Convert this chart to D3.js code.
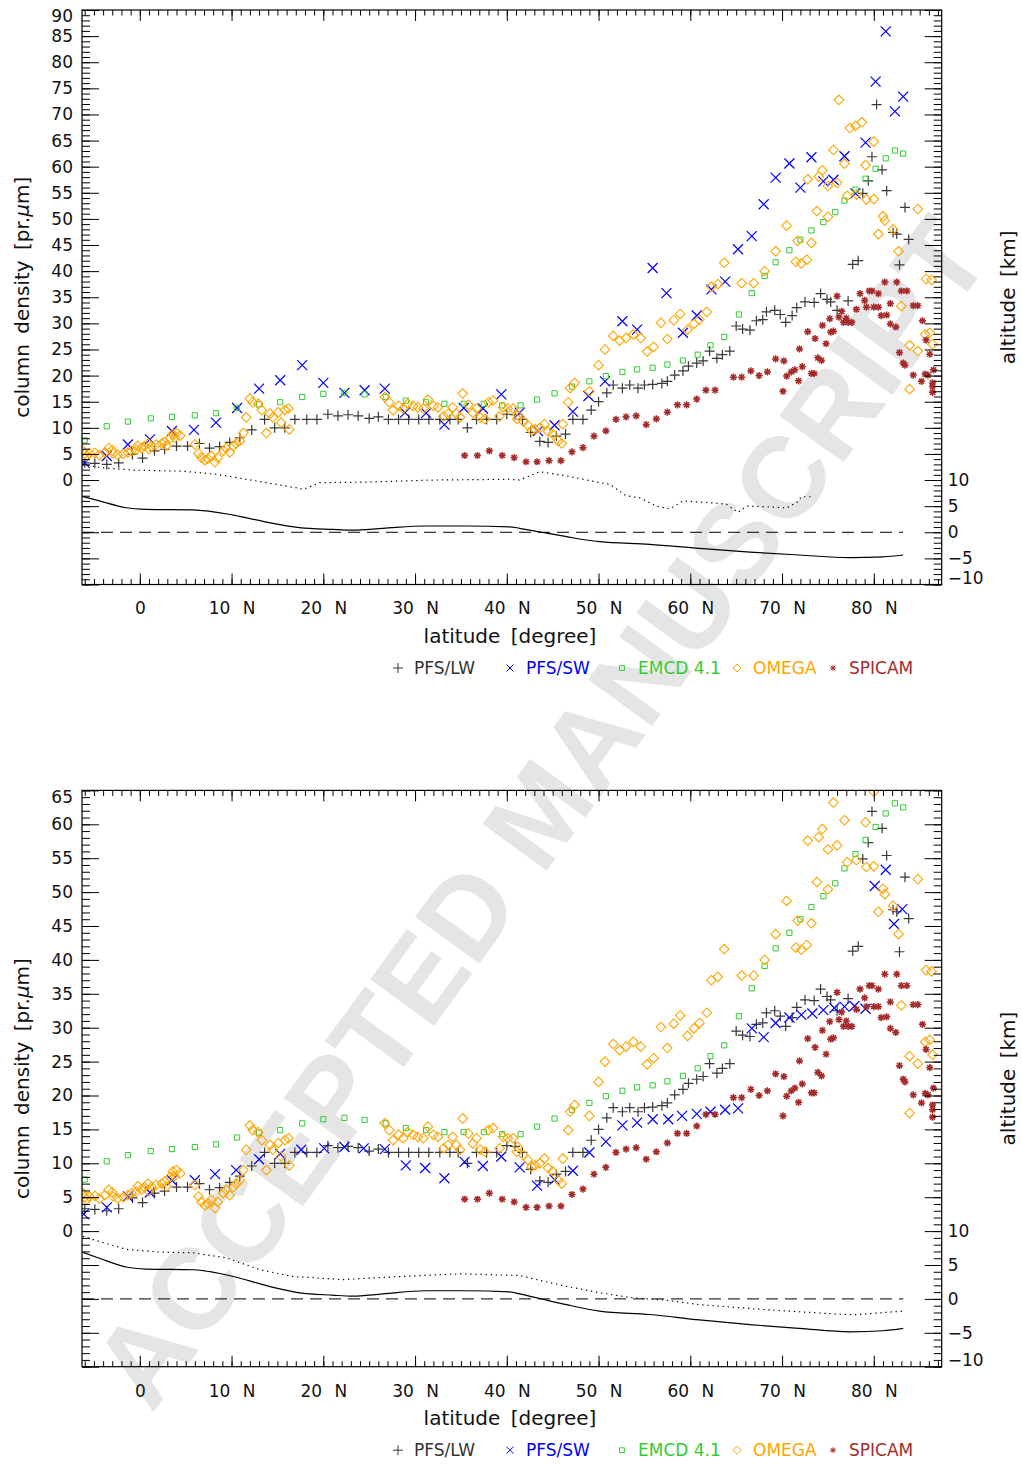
<!DOCTYPE html>
<html>
<head>
<meta charset="utf-8">
<script src="https://cdn.jsdelivr.net/npm/d3@7"></script>
<style>
  body { margin: 0; background: #fff; }
  svg text { font-family: "DejaVu Sans", sans-serif; }
</style>
</head>
<body>
<svg id="chart" width="1022" height="1464"></svg>
<script>
// ---- data: [latitude (deg N), column density (pr.um)] ----
const pfsLW = [[-6.0,3.3],[-4.9,3.2],[-3.6,3.0],[-2.3,3.3],[-0.8,4.9],[0.3,4.2],[1.6,5.6],[2.7,5.9],[4.0,6.5],[5.2,6.5],[6.5,7.0],[7.6,6.1],[8.7,6.4],[9.8,7.2],[10.9,8.1],[12.2,9.6],[13.6,11.6],[14.7,10.0],[15.8,10.0],[16.9,11.6],[18.2,11.6],[19.3,11.6],[20.5,12.6],[21.6,12.3],[22.7,12.5],[23.8,12.3],[25.0,11.8],[26.0,12.1],[27.1,11.6],[28.2,11.6],[29.3,11.6],[30.4,11.6],[31.5,11.6],[32.7,11.6],[33.8,11.6],[34.7,11.6],[35.7,10.0],[36.7,11.6],[37.8,11.6],[38.9,11.6],[40.0,12.6],[40.9,12.5],[41.7,11.6],[42.6,9.1],[43.6,7.4],[44.5,7.2],[45.4,8.4],[46.4,8.8],[47.2,11.6],[48.3,11.6],[49.2,13.4],[50.0,15.0],[50.9,16.7],[51.6,18.2],[52.6,17.6],[53.4,18.2],[54.3,17.6],[55.0,18.2],[55.9,18.3],[56.9,18.5],[57.5,18.9],[58.3,20.1],[59.2,20.9],[59.8,21.8],[60.7,22.4],[61.4,22.8],[62.1,24.7],[62.9,23.3],[63.5,24.0],[64.3,24.7],[65.0,29.5],[65.7,28.9],[66.5,28.7],[67.2,30.5],[67.9,30.7],[68.3,32.2],[69.2,32.5],[69.8,31.7],[70.4,30.2],[71.1,31.5],[71.6,33.0],[72.5,34.1],[73.5,34.0],[74.2,35.7],[74.9,34.6],[75.3,34.1],[76.0,32.5],[77.2,34.3],[77.7,41.3],[78.3,42.0],[78.8,54.9],[79.4,57.3],[79.8,61.9],[80.3,71.9],[80.9,59.4],[81.4,55.4],[82.1,47.4],[82.5,47.1],[82.8,41.2],[83.4,52.2],[83.8,46.1]];

const pfsSWTop = [[-6.0,3.3],[-3.6,4.6],[-1.3,6.8],[1.1,7.8],[3.5,9.4],[5.9,9.6],[8.3,11.0],[10.6,13.8],[13.0,17.5],[15.3,19.1],[17.7,22.0],[20.0,18.6],[22.3,16.7],[24.5,17.2],[26.7,17.5],[28.9,12.9],[31.2,12.8],[33.2,10.6],[35.3,13.8],[37.4,13.7],[39.4,16.4],[41.4,12.9],[43.4,9.4],[45.2,10.5],[47.2,13.1],[48.9,16.1],[50.7,18.9],[52.6,30.4],[54.2,28.8],[55.9,40.6],[57.4,35.8],[59.2,28.2],[60.7,31.5],[62.3,36.5],[63.8,38.0],[65.2,44.2],[66.7,46.7],[68.0,52.8],[69.3,57.9],[70.8,60.6],[72.0,56.0],[73.2,61.8],[74.5,57.2],[75.6,57.5],[76.8,62.0],[78.0,54.9],[79.1,64.6],[80.2,76.3],[81.3,85.9],[82.3,70.6],[83.2,73.4]];

const pfsSWBottom = [[-6.1,2.5],[-3.6,3.5],[-1.3,5.1],[1.1,5.7],[3.5,7.5],[6.0,7.5],[8.2,8.4],[10.5,9.0],[13.0,10.6],[15.3,11.4],[17.6,12.0],[20.1,12.2],[22.3,12.4],[24.4,12.2],[26.7,12.1],[29.0,9.7],[31.1,9.3],[33.2,7.8],[35.4,10.2],[37.4,9.6],[39.4,11.0],[41.4,9.4],[43.3,6.7],[45.2,7.6],[47.2,8.9],[49.0,11.6],[50.8,13.2],[52.6,15.6],[54.2,16.0],[55.9,16.5],[57.6,16.5],[59.1,17.0],[60.7,17.3],[62.2,17.6],[63.8,17.9],[65.2,18.1],[66.7,29.9],[68.0,28.6],[69.3,30.7],[70.8,31.5],[72.1,31.9],[73.3,32.1],[74.5,32.6],[75.7,32.9],[76.8,33.1],[77.9,33.2],[79.1,32.8],[80.1,50.9],[81.3,53.3],[82.2,45.3],[83.1,47.5]];

const emcd = [[-6.0,7.6],[-3.6,10.3],[-1.3,11.2],[1.2,11.8],[3.5,12.1],[6.0,12.4],[8.3,12.8],[10.6,13.8],[13.0,14.5],[15.3,14.9],[17.7,15.9],[20.0,16.5],[22.3,16.7],[24.5,16.4],[26.8,15.9],[29.0,15.2],[31.2,14.9],[33.2,14.6],[35.3,14.6],[37.5,14.6],[39.5,14.3],[41.5,14.3],[43.3,15.4],[45.2,16.6],[47.1,17.9],[49.0,18.9],[50.8,19.9],[52.6,20.7],[54.2,21.2],[55.9,21.5],[57.5,22.1],[59.2,22.9],[60.8,24.0],[62.2,25.8],[63.7,27.4],[65.3,31.7],[66.7,35.8],[68.1,39.1],[69.3,41.7],[70.8,44.0],[72.0,46.0],[73.2,47.8],[74.5,49.4],[75.8,51.3],[76.8,53.5],[78.0,55.6],[79.1,57.7],[80.2,59.6],[81.3,61.6],[82.3,63.1],[83.2,62.5]];

const omega = [[-6.2,5.6],[-6.0,5.0],[-5.8,4.6],[-5.5,5.1],[-4.9,5.2],[-4.4,4.8],[-3.8,5.3],[-3.4,6.1],[-3.0,5.7],[-2.9,5.1],[-2.4,4.8],[-1.8,5.0],[-1.3,5.3],[-0.9,5.6],[-0.4,5.8],[-0.2,6.6],[0.2,6.1],[0.5,6.5],[0.9,7.0],[1.0,5.9],[1.3,6.5],[1.8,6.8],[2.4,7.0],[2.7,7.3],[2.9,6.6],[3.3,8.0],[3.6,8.8],[3.8,8.1],[4.0,9.0],[4.4,8.5],[6.0,6.8],[6.4,5.1],[6.7,4.3],[7.1,3.8],[7.4,4.1],[7.8,4.6],[8.2,3.4],[8.5,4.3],[9.1,5.6],[9.4,6.1],[9.8,5.3],[10.2,6.5],[10.5,7.0],[10.9,7.5],[11.3,9.0],[11.6,12.0],[12.0,15.6],[12.3,14.9],[12.9,14.6],[13.3,13.4],[13.8,9.0],[14.2,12.7],[14.5,12.0],[15.1,13.0],[15.4,11.0],[15.8,13.4],[16.2,13.7],[16.3,9.7],[26.7,15.9],[27.2,14.9],[27.6,13.4],[28.2,14.2],[28.7,13.7],[29.2,14.6],[29.8,14.2],[30.3,13.9],[30.9,13.7],[31.4,15.4],[32.0,14.2],[32.5,13.9],[33.1,12.2],[33.6,12.7],[34.1,13.9],[34.5,12.7],[34.9,12.0],[35.2,16.6],[35.8,14.4],[36.3,12.9],[36.7,13.7],[37.1,12.0],[37.6,11.7],[38.0,14.9],[38.5,15.2],[39.2,12.2],[39.6,13.9],[40.1,13.7],[40.7,13.7],[41.1,11.7],[41.2,12.4],[41.8,11.2],[42.3,10.5],[42.7,9.5],[43.1,9.7],[43.6,10.0],[44.1,10.7],[44.5,9.3],[45.0,8.8],[45.6,7.5],[46.0,7.0],[46.1,10.7],[46.7,14.9],[46.9,17.6],[47.4,18.6],[49.0,17.0],[50.0,22.0],[50.7,25.0],[51.6,27.6],[52.3,26.7],[53.0,27.2],[53.8,27.9],[54.6,27.2],[55.3,24.6],[56.0,25.5],[56.8,30.1],[57.5,27.0],[58.2,30.6],[58.9,31.8],[59.7,28.8],[60.4,29.9],[61.0,30.7],[61.8,32.2],[62.3,37.0],[63.0,37.5],[63.7,41.6],[65.6,37.7],[66.9,37.7],[68.1,40.0],[69.3,43.8],[70.5,48.7],[71.5,41.8],[71.7,45.8],[72.1,41.5],[72.7,42.2],[72.8,57.6],[73.2,45.4],[73.8,51.5],[74.0,58.1],[74.4,59.3],[75.0,50.4],[75.0,56.3],[75.6,63.2],[76.0,56.9],[76.2,72.8],[76.8,60.6],[77.1,54.4],[77.4,67.4],[78.0,67.8],[78.1,54.7],[78.7,68.5],[79.1,60.3],[79.2,53.7],[80.0,53.8],[80.0,64.8],[80.5,47.1],[81.0,50.5],[81.2,49.7],[82.1,48.0],[82.7,43.8],[83.0,33.3],[83.9,25.8],[83.9,17.4],[84.8,24.7],[84.8,51.9],[85.6,27.9],[85.7,38.5],[86.1,28.2],[86.3,38.3],[86.4,26.0]];

const spicam = [[35.4,4.7],[36.8,4.7],[38.1,5.6],[39.5,4.7],[40.8,4.3],[42.1,3.5],[43.3,3.5],[44.6,3.7],[45.9,3.7],[47.1,5.4],[48.3,6.2],[49.5,8.4],[50.8,9.4],[51.9,11.6],[53.0,12.1],[54.1,12.3],[55.2,10.6],[56.3,11.7],[57.5,13.0],[58.6,14.4],[59.6,14.4],[60.7,15.5],[61.7,17.2],[62.7,17.2],[64.7,19.7],[65.6,19.7],[66.6,20.9],[67.5,20.0],[68.4,20.7],[69.3,23.2],[70.1,17.0],[70.2,22.8],[70.5,19.9],[71.0,20.7],[71.4,21.1],[71.8,19.0],[71.9,25.1],[72.2,21.7],[72.8,28.4],[73.2,20.4],[73.5,20.4],[73.6,27.1],[73.9,23.4],[74.3,22.9],[74.4,29.6],[74.8,26.1],[75.2,30.9],[75.3,28.3],[75.6,28.5],[76.0,35.2],[76.2,31.2],[76.5,32.3],[76.7,30.2],[77.0,31.0],[77.2,30.2],[77.6,30.2],[78.1,32.7],[78.5,35.7],[79.0,34.4],[79.2,33.1],[79.5,36.2],[79.8,36.2],[80.0,33.1],[80.5,35.7],[80.5,33.1],[80.8,31.5],[81.2,37.9],[81.4,31.6],[81.8,33.8],[81.8,29.9],[82.4,29.3],[82.5,37.9],[82.8,24.4],[83.0,36.2],[83.2,22.4],[83.4,22.0],[83.6,36.2],[84.3,33.4],[84.3,20.1],[84.8,33.4],[85.2,18.9],[85.3,30.5],[85.6,20.3],[85.7,26.8],[85.9,20.1],[86.1,24.1],[86.4,18.6],[86.4,17.9],[86.4,16.8],[86.5,21.1]];

// altitude curves: [latitude, altitude km] (right axis)
const surfaceAlt = [[-6.3,6.9],[-4.4,6.0],[-1.5,4.7],[0.7,4.4],[5.8,4.3],[10.2,3.3],[13.8,1.95],[17.4,0.9],[21.0,0.55],[23.2,0.4],[26.5,0.75],[31.2,1.2],[35.6,1.2],[40.3,1.05],[41.4,0.75],[43.9,-0.05],[46.5,-0.85],[50.1,-1.8],[55.6,-2.3],[61.0,-3.1],[66.5,-3.8],[71.9,-4.35],[77.4,-4.85],[81.0,-4.7],[83.2,-4.35]];
const dottedTop = [[-6.2,13.0],[-4.4,12.4],[-0.7,11.9],[4.7,11.7],[8.4,11.1],[13.8,9.5],[17.4,8.4],[17.8,8.2],[19.6,9.5],[24.7,9.6],[32.0,10.0],[40.3,10.15],[41.4,10.0],[43.6,11.6],[46.5,10.8],[50.1,9.5],[51.2,9.2],[53.0,7.0],[54.5,6.6],[56.3,5.0],[57.8,4.5],[59.2,6.0],[61.8,5.7],[63.9,5.4],[65.2,3.8],[66.1,5.0],[68.3,4.9],[70.5,4.65],[71.6,5.7],[72.1,6.8],[73.2,6.8]];
const dottedBottom = [[-6.2,9.2],[-5.1,8.75],[-1.45,7.3],[2.2,6.9],[5.8,6.8],[9.45,6.05],[13.1,4.3],[16.7,3.3],[22.2,2.85],[27.6,3.25],[34.9,3.7],[41.4,3.45],[42.9,2.95],[46.5,1.85],[50.1,0.9],[53.8,0.15],[57.4,-0.2],[61.0,-0.85],[68.3,-1.6],[75.5,-2.2],[77.7,-2.35],[83.2,-1.8]];
const refLevel = [[-6.3,0],[83.2,0]];

const latTicks = [0, 10, 20, 30, 40, 50, 60, 70, 80];
const legendNames = ["PFS/LW", "PFS/SW", "EMCD 4.1", "OMEGA", "SPICAM"];

// ---- drawing ----
const svg = d3.select("#chart");
const x = d3.scaleLinear().domain([-6.3, 87.4]).range([82, 941.7]);

function symbolPath(type, s) {
  const a = s * 0.72;
  switch (type) {
    case "plus": return `M${-s},0H${s}M0,${-s}V${s}`;
    case "cross": return `M${-s},${-s}L${s},${s}M${-s},${s}L${s},${-s}`;
    case "square": return `M${-s},${-s}H${s}V${s}H${-s}Z`;
    case "diamond": return `M0,${-s}L${s},0L0,${s}L${-s},0Z`;
    case "star": return `M${-s},0H${s}M0,${-s}V${s}M${-a},${-a}L${a},${a}M${-a},${a}L${a},${-a}`;
  }
}

const styles = [
  {sym: "plus", size: 5, legSize: 5, color: "#383838", text: "#333", width: 1.2},
  {sym: "cross", size: 5, legSize: 3.5, color: "#0000ff", text: "#0000ff", width: 1.2},
  {sym: "square", size: 2.6, legSize: 2.4, color: "#33cc33", text: "#33cc33", width: 1},
  {sym: "diamond", size: 4.8, legSize: 4, color: "#ffa500", text: "#ffa500", width: 1.1},
  {sym: "star", size: 3.6, legSize: 3, color: "#a52a2a", text: "#a52a2a", width: 1.5}
];

// watermark behind everything
svg.append("text")
  .attr("transform", "translate(540,812) rotate(-54)")
  .attr("text-anchor", "middle")
  .attr("dominant-baseline", "central")
  .style("font-family", "'Liberation Sans', Arial, sans-serif")
  .style("font-size", "115px")
  .style("font-weight", "bold")
  .attr("fill", "#e5e5e5")
  .text("ACCEPTED MANUSCRIPT");

function drawPanel(p) {
  const y = d3.scaleLinear().domain([-20, p.yMax]).range([p.bottom, p.top]);
  const yR = d3.scaleLinear().domain([-10, p.yMax + 10]).range([p.bottom, p.top]);
  const [x0, x1] = x.range();
  const g = svg.append("g");

  g.append("clipPath").attr("id", "clip" + p.name)
    .append("rect").attr("x", x0).attr("y", p.top)
    .attr("width", x1 - x0).attr("height", p.bottom - p.top);
  const plot = g.append("g").attr("clip-path", `url(#clip${p.name})`);

  // altitude profiles
  const straight = d3.line().x(d => x(d[0])).y(d => yR(d[1]));
  const smooth = d3.line().x(d => x(d[0])).y(d => yR(d[1])).curve(d3.curveMonotoneX);
  plot.append("path").datum(refLevel).attr("d", straight)
    .attr("fill", "none").attr("stroke", "#000").attr("stroke-width", 1)
    .attr("stroke-dasharray", "12,7");
  plot.append("path").datum(p.dotted).attr("d", straight)
    .attr("fill", "none").attr("stroke", "#000").attr("stroke-width", 1.2)
    .attr("stroke-dasharray", "1.3,3.8");
  plot.append("path").datum(surfaceAlt).attr("d", smooth)
    .attr("fill", "none").attr("stroke", "#000").attr("stroke-width", 1.2);

  // scatter series
  p.series.forEach((data, i) => {
    const st = styles[i];
    plot.append("g").selectAll("path").data(data).join("path")
      .attr("transform", d => `translate(${x(d[0])},${y(d[1])})`)
      .attr("d", symbolPath(st.sym, st.size))
      .attr("fill", "none").attr("stroke", st.color).attr("stroke-width", st.width);
  });

  // frame
  g.append("rect").attr("x", x0).attr("y", p.top)
    .attr("width", x1 - x0).attr("height", p.bottom - p.top)
    .attr("fill", "none").attr("stroke", "#000").attr("stroke-width", 1.2);

  function axisG(gen, tr) {
    const a = g.append("g").attr("transform", tr).call(gen)
      .attr("font-family", "DejaVu Sans").attr("font-size", 17);
    a.select(".domain").remove();
    a.selectAll(".tick line").attr("stroke", "#000").attr("stroke-width", 1);
    a.selectAll(".tick text").attr("fill", "#111");
    return a;
  }

  const minorLat = d3.range(-6, 88, 1);
  axisG(d3.axisBottom(x).tickValues(minorLat).tickSize(-5.5).tickFormat(""), `translate(0,${p.bottom})`);
  axisG(d3.axisTop(x).tickValues(minorLat).tickSize(-5.5).tickFormat(""), `translate(0,${p.top})`);
  axisG(d3.axisTop(x).tickValues(latTicks).tickSize(-11).tickFormat(""), `translate(0,${p.top})`);
  const xb = axisG(d3.axisBottom(x).tickValues(latTicks).tickSize(-11)
    .tickFormat(d => d === 0 ? "0" : d + " N"), `translate(0,${p.bottom})`);
  xb.selectAll(".tick text").attr("y", 24).attr("dy", "0.35em").style("word-spacing", "7px");

  const minorY = d3.range(-20, p.yMax + 1, 1);
  const majorY = d3.range(-20, p.yMax + 1, 5);
  axisG(d3.axisLeft(y).tickValues(minorY).tickSize(-8).tickFormat(""), `translate(${x0},0)`);
  const yl = axisG(d3.axisLeft(y).tickValues(majorY).tickSize(-17)
    .tickFormat(d => d >= 0 ? d : ""), `translate(${x0},0)`);
  yl.selectAll(".tick text").attr("x", -9)
    .attr("y", d => Math.max(0, p.top + 6.5 - y(d)));

  const minorR = d3.range(-10, p.yMax + 11, 1);
  const majorR = d3.range(-10, p.yMax + 11, 5);
  axisG(d3.axisRight(yR).tickValues(minorR).tickSize(-8).tickFormat(""), `translate(${x1},0)`);
  const yr = axisG(d3.axisRight(yR).tickValues(majorR).tickSize(-17)
    .tickFormat(d => d <= 10 ? d3.format("d")(d) : ""), `translate(${x1},0)`);
  yr.selectAll(".tick text").attr("x", 6)
    .attr("y", d => Math.min(0, p.bottom - 6.5 - yR(d)));

  // titles
  const midY = (p.top + p.bottom) / 2;
  g.append("text").attr("transform", `translate(22,${midY}) rotate(-90)`)
    .attr("text-anchor", "middle").attr("dominant-baseline", "central")
    .style("font-size", "20px").style("word-spacing", "4px").attr("fill", "#111")
    .html('column density [pr.<tspan font-style="italic">µ</tspan>m]');
  g.append("text").attr("transform", `translate(1008,${midY}) rotate(-90)`)
    .attr("text-anchor", "middle").attr("dominant-baseline", "central")
    .style("font-size", "20px").style("word-spacing", "4px").attr("fill", "#111")
    .text("altitude [km]");
  g.append("text").attr("x", 510).attr("y", p.bottom + 51)
    .attr("text-anchor", "middle").attr("dominant-baseline", "central")
    .style("font-size", "20px").style("word-spacing", "4px").attr("fill", "#111")
    .text("latitude [degree]");

  // legend
  const legX = [398, 510, 622, 737, 833];
  const leg = g.append("g").attr("transform", `translate(0,${p.bottom + 83.5})`);
  legendNames.forEach((name, i) => {
    const st = styles[i];
    leg.append("path").attr("transform", `translate(${legX[i]},0)`)
      .attr("d", symbolPath(st.sym, st.legSize))
      .attr("fill", "none").attr("stroke", st.color).attr("stroke-width", 1);
    leg.append("text").attr("x", legX[i] + 16).attr("y", 0)
      .attr("dominant-baseline", "central")
      .style("font-size", "17px").attr("fill", st.text)
      .text(name);
  });
}

drawPanel({name: "top", top: 10, bottom: 584.5, yMax: 90, dotted: dottedTop,
  series: [pfsLW, pfsSWTop, emcd, omega, spicam]});
drawPanel({name: "bottom", top: 790.4, bottom: 1366.7, yMax: 65, dotted: dottedBottom,
  series: [pfsLW, pfsSWBottom, emcd, omega, spicam]});
</script>
</body>
</html>
